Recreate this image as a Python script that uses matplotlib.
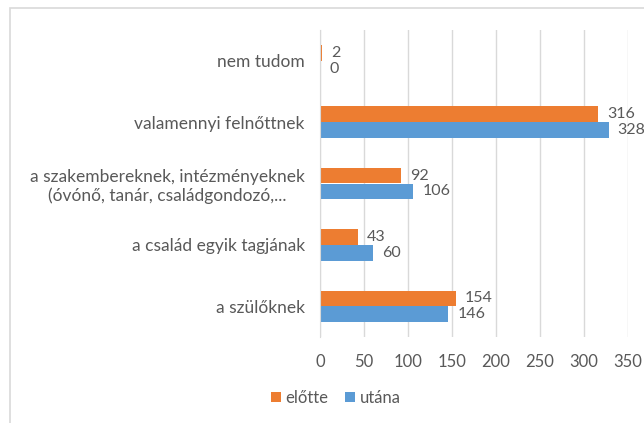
import numpy as np
import matplotlib
matplotlib.use("Agg")
import matplotlib.pyplot as plt
from matplotlib.patches import Rectangle

plt.rcParams['font.family'] = ['Lato', 'DejaVu Sans']

kategoriak = [
    "a szülőknek",
    "a család egyik tagjának",
    "a szakembereknek, intézményeknek\n(óvónő, tanár, családgondozó,...",
    "valamennyi felnőttnek",
    "nem tudom",
]
elotte = [154, 43, 92, 316, 2]
utana = [146, 60, 106, 328, 0]
xticks = [0, 50, 100, 150, 200, 250, 300, 350]

szoveg = "#595959"
narancs = "#ED7D31"
kek = "#5B9BD5"

fig = plt.figure(figsize=(6.44, 4.23), dpi=100)
fig.patches.append(Rectangle((10 / 644, -0.1), 1.0, 1 - 8 / 423 + 0.1,
                             transform=fig.transFigure, fill=False,
                             edgecolor="#D9D9D9", linewidth=1.2))
ax = fig.add_axes([320 / 644, 1 - 337 / 423, 308 / 644, 307 / 423])

y = np.arange(len(kategoriak))
h = 0.255
b1 = ax.barh(y + h / 2, elotte, height=h, color=narancs, label="előtte")
b2 = ax.barh(y - h / 2, utana, height=h, color=kek, label="utána")

for bars, vals in ((b1, elotte), (b2, utana)):
    for bar, v in zip(bars, vals):
        ax.annotate(str(v), (bar.get_width(), bar.get_y() + bar.get_height() / 2),
                    xytext=(6.5, 0), textcoords="offset points",
                    va="center", ha="left", fontsize=11.5, color=szoveg)

ax.set_xlim(0, 350)
ax.set_ylim(-0.5, len(kategoriak) - 0.5)
ax.set_xticks(xticks)
ax.set_yticks(y)
ax.set_yticklabels(kategoriak, ha="right", multialignment="center", fontsize=12.5)
ax.tick_params(axis="both", length=0, labelcolor=szoveg)
ax.tick_params(axis="x", pad=12, labelsize=12)
ax.tick_params(axis="y", pad=11)
ax.grid(axis="x", color="#D9D9D9", linewidth=1)
ax.set_axisbelow(True)
for s in ["top", "right", "bottom"]:
    ax.spines[s].set_visible(False)
ax.spines["left"].set_color("#D9D9D9")

fig.legend(handles=[b1, b2], loc="center", bbox_to_anchor=(336 / 644, 1 - 398 / 423),
           ncol=2, frameon=False, fontsize=12, labelcolor=szoveg,
           handlelength=0.6, handleheight=0.6, handletextpad=0.3, columnspacing=1.0)

fig.savefig("out.png", dpi=100)
